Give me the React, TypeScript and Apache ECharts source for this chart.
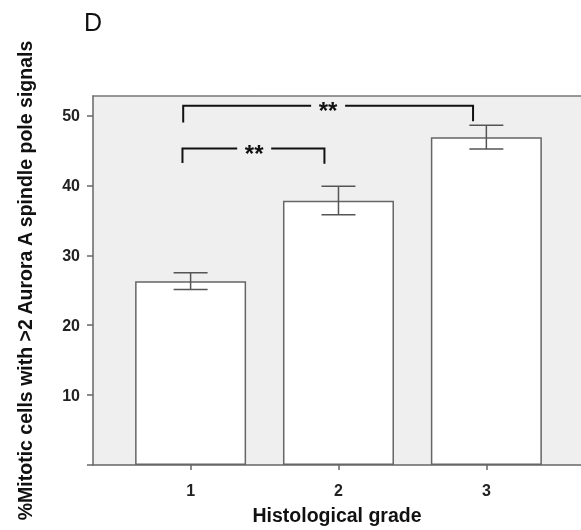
import React, { useEffect, useRef } from "react";
import * as echarts from "echarts";

const grades = [1, 2, 3];
const means = [26.3, 37.8, 46.9];
const errLow = [25.1, 35.8, 45.2];
const errHigh = [27.5, 39.9, 48.6];
const yTickValues = [0, 10, 20, 30, 40, 50];
const yLabelValues = [10, 20, 30, 40, 50];
// brackets: [xLeft, xRight, yTop, yLeftEnd, yRightEnd, xLabel]
const bracketXLeft = [0.95, 0.945];
const bracketXRight = [2.91, 1.905];
const bracketY = [51.4, 45.3];
const bracketLeftEnd = [49.0, 43.2];
const bracketRightEnd = [49.2, 43.1];
const bracketLabelX = [1.93, 1.43];
const bracketLabels = ["**", "**"];

export default function App() {
  const ref = useRef<HTMLDivElement>(null);
  useEffect(() => {
    if (!ref.current) return;
    const chart = echarts.init(ref.current, null, { renderer: "svg" });
    const font = "'Liberation Sans', Arial, sans-serif";
    const barData = grades.map((g, i) => [g, means[i]]);
    const errData = grades.map((g, i) => [g, errLow[i], errHigh[i]]);
    const brData = bracketXLeft.map((x, i) => [
      x,
      bracketXRight[i],
      bracketY[i],
      bracketLeftEnd[i],
      bracketRightEnd[i],
      bracketLabelX[i],
      i,
    ]);
    chart.setOption({
      animation: false,
      graphic: [
        {
          type: "text",
          left: 84,
          top: 9,
          style: { text: "D", font: `25px ${font}`, fill: "#111" },
        },
      ],
      grid: {
        left: 93,
        right: 0,
        top: 96,
        bottom: 530 - 467,
        show: true,
        backgroundColor: "#efefef",
        borderWidth: 0,
      },
      xAxis: [
        {
          type: "value",
          min: 0.34,
          max: 3.64,
          splitLine: { show: false },
          axisLine: { show: true, lineStyle: { color: "#666", width: 1.5 } },
          axisTick: {
            show: true,
            length: 5,
            customValues: grades,
            lineStyle: { color: "#666", width: 1.5 },
          },
          axisLabel: {
            customValues: grades,
            fontFamily: font,
            fontWeight: "bold",
            fontSize: 16,
            color: "#222",
            margin: 17,
          },
          name: "Histological grade",
          nameLocation: "middle",
          nameGap: 40,
          nameTextStyle: {
            fontFamily: font,
            fontWeight: "bold",
            fontSize: 19.5,
            color: "#111",
          },
        },
        {
          type: "value",
          position: "top",
          min: 0.34,
          max: 3.64,
          splitLine: { show: false },
          axisLine: { show: true, lineStyle: { color: "#777", width: 1.5 } },
          axisTick: { show: false },
          axisLabel: { show: false },
        },
      ],
      yAxis: {
        type: "value",
        min: 0,
        max: 52.8,
        splitLine: { show: false },
        axisLine: { show: true, lineStyle: { color: "#666", width: 1.5 } },
        axisTick: {
          show: true,
          length: 6,
          customValues: yTickValues,
          lineStyle: { color: "#666", width: 1.5 },
        },
        axisLabel: {
          customValues: yLabelValues,
          fontFamily: font,
          fontWeight: "bold",
          fontSize: 16,
          color: "#222",
          margin: 13,
        },
        name: "%Mitotic cells with >2 Aurora A spindle pole signals",
        nameLocation: "middle",
        nameGap: 58,
        nameTextStyle: {
          fontFamily: font,
          fontWeight: "bold",
          fontSize: 19.5,
          color: "#111",
        },
      },
      series: [
        {
          type: "bar",
          data: barData,
          barWidth: 111,
          itemStyle: { color: "#ffffff", borderColor: "#666", borderWidth: 1.5 },
          z: 2,
        },
        {
          type: "custom",
          data: errData,
          z: 3,
          renderItem: (params: any, api: any) => {
            const x = api.value(0);
            const lo = api.coord([x, api.value(1)]);
            const hi = api.coord([x, api.value(2)]);
            const hw = 17;
            const st = { stroke: "#555", lineWidth: 1.5 };
            return {
              type: "group",
              children: [
                { type: "line", shape: { x1: lo[0], y1: lo[1], x2: hi[0], y2: hi[1] }, style: st },
                { type: "line", shape: { x1: lo[0] - hw, y1: lo[1], x2: lo[0] + hw, y2: lo[1] }, style: st },
                { type: "line", shape: { x1: hi[0] - hw, y1: hi[1], x2: hi[0] + hw, y2: hi[1] }, style: st },
              ],
            };
          },
        },
        {
          type: "custom",
          data: brData,
          z: 4,
          renderItem: (params: any, api: any) => {
            const l = api.coord([api.value(0), api.value(2)]);
            const r = api.coord([api.value(1), api.value(2)]);
            const le = api.coord([api.value(0), api.value(3)]);
            const re = api.coord([api.value(1), api.value(4)]);
            const t = api.coord([api.value(5), api.value(2)]);
            const gap = 17;
            const st = { stroke: "#111", lineWidth: 2 };
            const label = bracketLabels[api.value(6)];
            return {
              type: "group",
              children: [
                { type: "polyline", shape: { points: [le, l, [t[0] - gap, l[1]]] }, style: { ...st, fill: "none" } },
                { type: "polyline", shape: { points: [[t[0] + gap, r[1]], r, re] }, style: { ...st, fill: "none" } },
                {
                  type: "text",
                  x: t[0],
                  y: t[1] + 5,
                  style: {
                    text: label,
                    font: `bold 24px ${font}`,
                    fill: "#111",
                    align: "center",
                    verticalAlign: "middle",
                  },
                },
              ],
            };
          },
        },
      ],
    });
    return () => chart.dispose();
  }, []);
  return (
    <div
      ref={ref}
      style={{ position: "fixed", left: 0, top: 0, width: 581, height: 530, overflow: "hidden" }}
    />
  );
}
